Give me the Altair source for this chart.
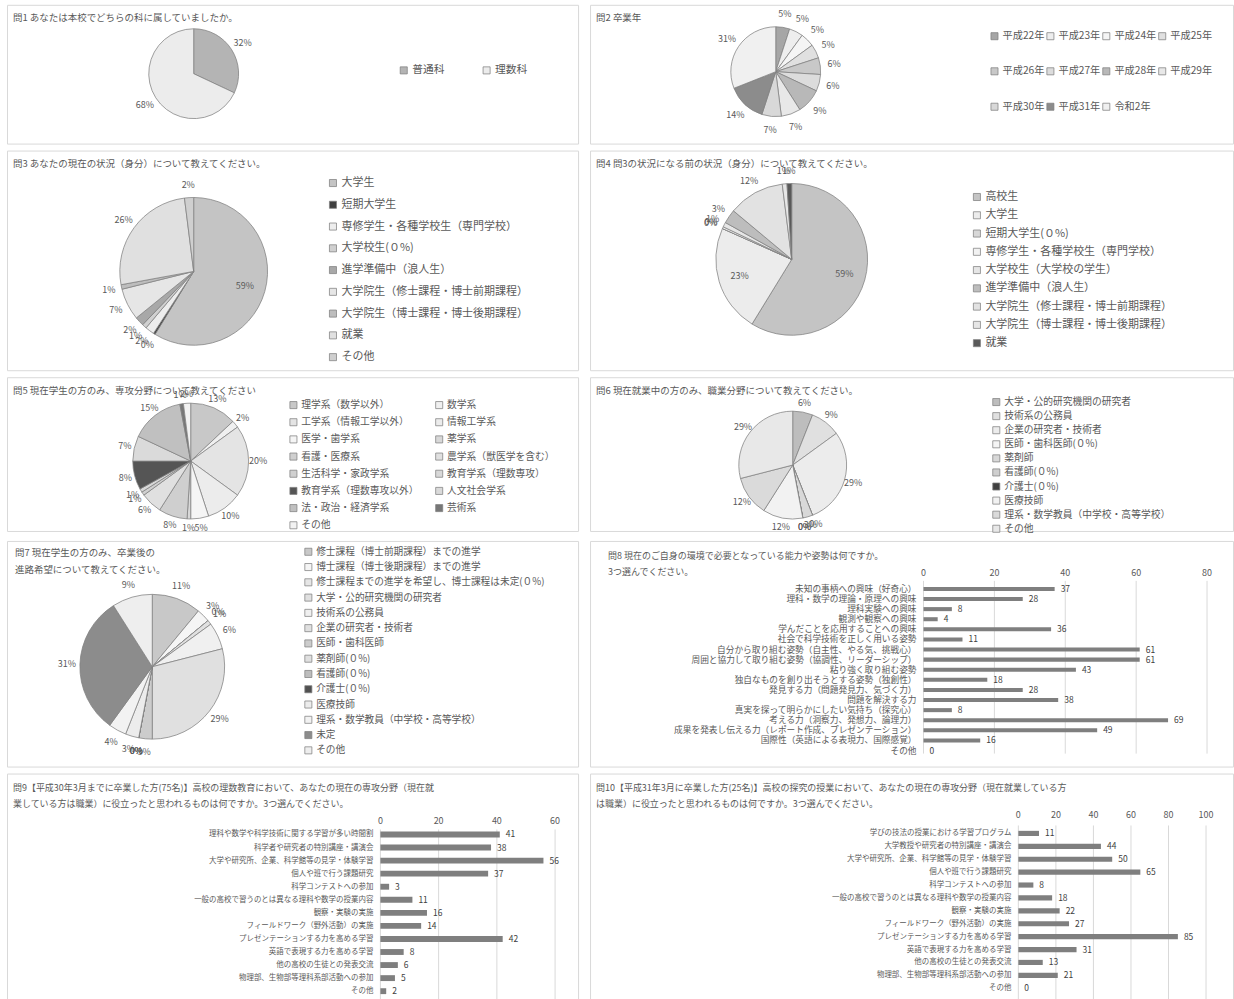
import json
import altair as alt
import pandas as pd

FONT = "Noto Sans CJK JP"
TXT = "#595959"
EDGE = "#7f7f7f"

# ---------------- data ----------------
q1_title = "問1 あなたは本校でどちらの科に属していましたか。"
q1_cats = ["普通科", "理数科"]
q1_vals = [32, 68]
q1_cols = ["#b4b4b4", "#ececec"]

q2_title = "問2 卒業年"
q2_cats = ["平成22年", "平成23年", "平成24年", "平成25年", "平成26年", "平成27年",
           "平成28年", "平成29年", "平成30年", "平成31年", "令和2年"]
q2_vals = [5, 5, 5, 5, 6, 6, 9, 7, 7, 14, 31]
q2_cols = ["#a6a6a6", "#eeeeee", "#f5f5f5", "#e0e0e0", "#c8c8c8", "#dcdcdc",
           "#b8b8b8", "#e8e8e8", "#d8d8d8", "#8c8c8c", "#f0f0f0"]

q3_title = "問3 あなたの現在の状況（身分）について教えてください。"
q3_cats = ["大学生", "短期大学生", "専修学生・各種学校生（専門学校）", "大学校生(０%)",
           "進学準備中（浪人生）", "大学院生（修士課程・博士前期課程）",
           "大学院生（博士課程・博士後期課程）", "就業", "その他"]
q3_vals = [59, 0.4, 2, 1, 2, 7, 1, 26, 2]
q3_cols = ["#c4c4c4", "#404040", "#ededed", "#d0d0d0", "#a8a8a8", "#e6e6e6",
           "#bdbdbd", "#e0e0e0", "#cfcfcf"]

q4_title = "問4 問3の状況になる前の状況（身分）について教えてください。"
q4_cats = ["高校生", "大学生", "短期大学生(０%)", "専修学生・各種学校生（専門学校）",
           "大学校生（大学校の学生）", "進学準備中（浪人生）",
           "大学院生（修士課程・博士前期課程）", "大学院生（博士課程・博士後期課程）", "就業"]
q4_vals = [59, 23, 0, 0.4, 1, 3, 12, 1, 1]
q4_cols = ["#c4c4c4", "#ececec", "#d8d8d8", "#f2f2f2", "#e6e6e6", "#bdbdbd",
           "#e2e2e2", "#e6e6e6", "#595959"]

q5_title = "問5 現在学生の方のみ、専攻分野について教えてください"
q5_cats = ["理学系（数学以外）", "数学系", "工学系（情報工学以外）", "情報工学系",
           "医学・歯学系", "薬学系", "看護・医療系", "農学系（獣医学を含む）",
           "生活科学・家政学系", "教育学系（理数専攻）", "教育学系（理数専攻以外）",
           "人文社会学系", "法・政治・経済学系", "芸術系", "その他"]
q5_vals = [13, 2, 20, 10, 5, 1, 8, 6, 1, 1, 8, 7, 15, 1, 2]
q5_cols = ["#c8c8c8", "#f0f0f0", "#e4e4e4", "#ececec", "#f5f5f5", "#d8d8d8",
           "#cfcfcf", "#e0e0e0", "#d0d0d0", "#d8d8d8", "#555555", "#dadada",
           "#c0c0c0", "#777777", "#f2f2f2"]

q6_title = "問6 現在就業中の方のみ、職業分野について教えてください。"
q6_cats = ["大学・公的研究機関の研究者", "技術系の公務員", "企業の研究者・技術者",
           "医師・歯科医師(０%)", "薬剤師", "看護師(０%)", "介護士(０%)", "医療技師",
           "理系・数学教員（中学校・高等学校）", "その他"]
q6_vals = [6, 9, 29, 0, 3, 0, 0, 12, 12, 29]
q6_cols = ["#bdbdbd", "#e0e0e0", "#ececec", "#f5f5f5", "#d8d8d8", "#cfcfcf",
           "#404040", "#f2f2f2", "#dadada", "#e8e8e8"]

q7_title = " 問7 現在学生の方のみ、卒業後の\n進路希望について教えてください。"
q7_cats = ["修士課程（博士前期課程）までの進学", "博士課程（博士後期課程）までの進学",
           "修士課程までの進学を希望し、博士課程は未定(０%)", "大学・公的研究機関の研究者",
           "技術系の公務員", "企業の研究者・技術者", "医師・歯科医師", "薬剤師(０%)",
           "看護師(０%)", "介護士(０%)", "医療技師", "理系・数学教員（中学校・高等学校）",
           "未定", "その他"]
q7_vals = [11, 3, 0, 1, 6, 29, 3, 0, 0, 0, 3, 4, 31, 9]
q7_cols = ["#c8c8c8", "#f5f5f5", "#e6e6e6", "#e0e0e0", "#f0f0f0", "#e0e0e0",
           "#cccccc", "#e0e0e0", "#bdbdbd", "#505050", "#ececec", "#f2f2f2",
           "#8c8c8c", "#eeeeee"]

q8_title = "問8 現在のご自身の環境で必要となっている能力や姿勢は何ですか。\n3つ選んでください。"
q8_cats = ["未知の事柄への興味（好奇心）", "理科・数学の理論・原理への興味", "理科実験への興味",
           "観測や観察への興味", "学んだことを応用することへの興味", "社会で科学技術を正しく用いる姿勢",
           "自分から取り組む姿勢（自主性、やる気、挑戦心）", "周囲と協力して取り組む姿勢（協調性、リーダーシップ）",
           "粘り強く取り組む姿勢", "独自なものを創り出そうとする姿勢（独創性）",
           "発見する力（問題発見力、気づく力）", "問題を解決する力",
           "真実を探って明らかにしたい気持ち（探究心）", "考える力（洞察力、発想力、論理力）",
           "成果を発表し伝える力（レポート作成、プレゼンテーション）", "国際性（英語による表現力、国際感覚）",
           "その他"]
q8_vals = [37, 28, 8, 4, 36, 11, 61, 61, 43, 18, 28, 38, 8, 69, 49, 16, 0]
q8_ticks = [0, 20, 40, 60, 80]

q9_title = ("問9【平成30年3月までに卒業した方(75名)】高校の理数教育において、あなたの現在の専攻分野（現在就\n"
            "業している方は職業）に役立ったと思われるものは何ですか。3つ選んでください。")
q9_cats = ["理科や数学や科学技術に関する学習が多い時間割", "科学者や研究者の特別講座・講演会",
           "大学や研究所、企業、科学館等の見学・体験学習", "個人や班で行う課題研究", "科学コンテストへの参加",
           "一般の高校で習うのとは異なる理科や数学の授業内容", "観察・実験の実施",
           "フィールドワーク（野外活動）の実施", "プレゼンテーションする力を高める学習",
           "英語で表現する力を高める学習", "他の高校の生徒との発表交流",
           "物理部、生物部等理科系部活動への参加", "その他"]
q9_vals = [41, 38, 56, 37, 3, 11, 16, 14, 42, 8, 6, 5, 2]
q9_ticks = [0, 20, 40, 60]

q10_title = ("問10【平成31年3月に卒業した方(25名)】高校の探究の授業において、あなたの現在の専攻分野（現在就業している方\n"
             "は職業）に役立ったと思われるものは何ですか。3つ選んでください。")
q10_cats = ["学びの技法の授業における学習プログラム", "大学教授や研究者の特別講座・講演会",
            "大学や研究所、企業、科学館等の見学・体験学習", "個人や班で行う課題研究", "科学コンテストへの参加",
            "一般の高校で習うのとは異なる理科や数学の授業内容", "観察・実験の実施",
            "フィールドワーク（野外活動）の実施", "プレゼンテーションする力を高める学習",
            "英語で表現する力を高める学習", "他の高校の生徒との発表交流",
            "物理部、生物部等理科系部活動への参加", "その他"]
q10_vals = [11, 44, 50, 65, 8, 18, 22, 27, 85, 31, 13, 21, 0]
q10_ticks = [0, 20, 40, 60, 80, 100]

LW, RW = 572, 644
ROW_H = [139, 220, 154, 226, 232]


def title_layer(text, tx, ty, size=9.5, lh=17):
    return alt.Chart(pd.DataFrame({"t": [text]})).mark_text(
        align="left", baseline="middle", font=FONT, fontSize=size, color=TXT,
        lineBreak="\n", lineHeight=lh
    ).encode(text="t:N", x=alt.value(tx), y=alt.value(ty))


def row_major(cats, columns):
    # Vega fills legend grids column by column; reorder so entries read row by row
    return [cats[i] for c in range(columns) for i in range(c, len(cats), columns)]


def pie_panel(title, cats, vals, cols, W, H, tpos, cx, cy, r, lx, ly, lfont,
              rowpad, columns=1, colpad=10, lab_off=13, inside=()):
    df = pd.DataFrame({"cat": cats, "v": vals, "idx": list(range(len(cats)))})
    total = float(sum(vals))
    tsc = alt.Scale(domain=[0, total])
    values = row_major(cats, columns) if columns > 1 else cats
    arcs = alt.Chart(df).mark_arc(outerRadius=r, stroke=EDGE, strokeWidth=0.75).encode(
        theta=alt.Theta("v:Q", stack=True, scale=tsc),
        order=alt.Order("idx:Q"),
        x=alt.value(cx), y=alt.value(cy),
        color=alt.Color("cat:N", scale=alt.Scale(domain=cats, range=cols),
                        legend=alt.Legend(orient="none", legendX=lx, legendY=ly, title=None,
                                          values=values,
                                          symbolType="square", symbolSize=50,
                                          symbolStrokeColor=EDGE, symbolStrokeWidth=0.75,
                                          labelFont=FONT, labelFontSize=lfont, labelColor=TXT,
                                          labelLimit=500, rowPadding=rowpad, columns=columns,
                                          columnPadding=colpad, labelOffset=3)),
    )
    ins = json.dumps(list(inside), ensure_ascii=False)
    lab_base = alt.Chart(df).transform_window(
        cum="sum(v)", sort=[alt.SortField("idx")], frame=[None, 0]
    ).transform_calculate(
        mid="datum.cum - datum.v / 2",
        lab="format(datum.v, '.0f') + '%'",
    )
    layers = [arcs]
    out_lab = lab_base.transform_filter(f"indexof({ins}, datum.cat) < 0").mark_text(
        radius=r + lab_off, font=FONT, fontSize=9, color=TXT).encode(
        theta=alt.Theta("mid:Q", stack=None, scale=tsc),
        x=alt.value(cx), y=alt.value(cy), text="lab:N")
    layers.append(out_lab)
    if inside:
        in_lab = lab_base.transform_filter(f"indexof({ins}, datum.cat) >= 0").mark_text(
            radius=r * 0.72, font=FONT, fontSize=9, color=TXT).encode(
            theta=alt.Theta("mid:Q", stack=None, scale=tsc),
            x=alt.value(cx), y=alt.value(cy), text="lab:N")
        layers.append(in_lab)
    layers.append(title_layer(title, tpos[0], tpos[1]))
    return alt.layer(*layers).properties(width=W, height=H)


def bar_panel(title, cats, vals, ticks, W, H, tpos, x0, x1, y0, y1, tick_y, g0, g1,
              lab_x, lab_font, pad_inner=0.6):
    df = pd.DataFrame({"cat": cats, "v": vals})
    tdf = pd.DataFrame({"t": ticks})
    xsc = alt.Scale(domain=[0, max(ticks)], range=[x0, x1], nice=False, zero=True)
    ysc = alt.Scale(domain=cats, range=[y0, y1], paddingInner=pad_inner, paddingOuter=pad_inner / 2)
    grid = alt.Chart(tdf).mark_rule(color="#d9d9d9", strokeWidth=1).encode(
        x=alt.X("t:Q", scale=xsc, axis=None), y=alt.value(g0), y2=alt.value(g1))
    tlab = alt.Chart(tdf).mark_text(font=FONT, fontSize=9, color=TXT, baseline="middle").encode(
        x=alt.X("t:Q", scale=xsc, axis=None), y=alt.value(tick_y), text="t:Q")
    bars = alt.Chart(df).mark_bar(color="#7f7f7f").encode(
        x=alt.X("v:Q", scale=xsc, axis=None), y=alt.Y("cat:N", scale=ysc, axis=None, sort=None))
    vlab = alt.Chart(df).mark_text(align="left", baseline="middle", dx=6, font=FONT,
                                   fontSize=8.5, color="#404040").encode(
        x=alt.X("v:Q", scale=xsc, axis=None), y=alt.Y("cat:N", scale=ysc, axis=None, sort=None),
        text="v:Q")
    clab = alt.Chart(df).mark_text(align="right", baseline="middle", font=FONT,
                                   fontSize=lab_font, color=TXT).encode(
        x=alt.value(lab_x), y=alt.Y("cat:N", scale=ysc, axis=None, sort=None), text="cat:N")
    t = title_layer(title, tpos[0], tpos[1], size=9, lh=16)
    return alt.layer(grid, tlab, bars, vlab, clab, t).properties(width=W, height=H)


p1 = pie_panel(q1_title, q1_cats, q1_vals, q1_cols, LW, ROW_H[0], (6, 13), 187, 69, 45,
               392, 60, 10.8, 4, columns=2, colpad=36)
p2 = pie_panel(q2_title, q2_cats, q2_vals, q2_cols, RW, ROW_H[0], (6, 13), 186, 67, 45,
               400, 26, 10.2, 24.5, columns=4, colpad=-2, lab_off=14)
p3 = pie_panel(q3_title, q3_cats, q3_vals, q3_cols, LW, ROW_H[1], (6, 13), 187, 121, 74,
               321, 27, 11, 9.8, inside=["大学生"])
p4 = pie_panel(q4_title, q4_cats, q4_vals, q4_cols, RW, ROW_H[1], (6, 13), 202, 109, 76,
               382, 41, 11, 6.3, inside=["高校生", "大学生"])
p5 = pie_panel(q5_title, q5_cats, q5_vals, q5_cols, LW, ROW_H[2], (6, 14), 184, 84, 58,
               282, 23, 9.8, 6.2, columns=2, colpad=14, lab_off=9.5)
p6 = pie_panel(q6_title, q6_cats, q6_vals, q6_cols, RW, ROW_H[2], (6, 14), 203, 88, 54,
               402, 20, 9.8, 3.1, lab_off=9)
p7 = pie_panel(q7_title, q7_cats, q7_vals, q7_cols, LW, ROW_H[3], (8, 12), 145.5, 126, 72.5,
               297, 6, 9.7, 4.3)
p8 = bar_panel(q8_title, q8_cats, q8_vals, q8_ticks, RW, ROW_H[3], (18, 15), 334, 618,
               43, 215, 32, 40, 213, 327, 8.7)
p9 = bar_panel(q9_title, q9_cats, q9_vals, q9_ticks, LW, ROW_H[4], (6, 14), 374, 549,
               54.5, 224.5, 48, 56, 229, 367, 7.5, pad_inner=0.55)
p10 = bar_panel(q10_title, q10_cats, q10_vals, q10_ticks, RW, ROW_H[4], (6, 14), 429, 617,
                53.5, 221.5, 42, 52, 229, 422, 7.5, pad_inner=0.6)

res = dict(color="independent", theta="independent", x="independent", y="independent")
rows = []
for a, b in [(p1, p2), (p3, p4), (p5, p6), (p7, p8), (p9, p10)]:
    rows.append(alt.hconcat(a, b, spacing=10).resolve_scale(**res).resolve_legend(color="independent"))

chart = alt.vconcat(*rows, spacing=5).resolve_scale(**res).resolve_legend(
    color="independent"
).properties(
    padding={"left": 6, "top": 3, "right": 0, "bottom": 0},
    background="white",
).configure_view(stroke="#d9d9d9", strokeWidth=1)

chart.save("out.html", embed_options={"renderer": "svg", "actions": False})
